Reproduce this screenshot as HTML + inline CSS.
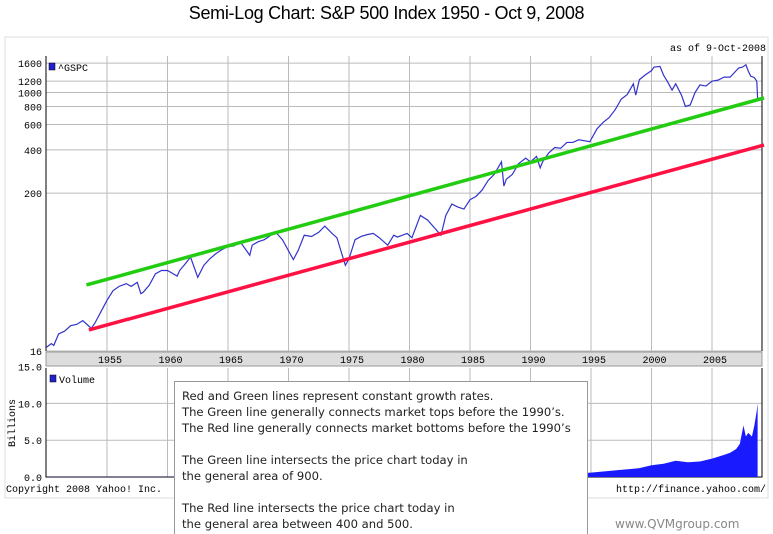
<!DOCTYPE html>
<html><head><meta charset="utf-8"><style>
html,body{margin:0;background:#fff;width:773px;height:534px;overflow:hidden;position:relative;font-family:"Liberation Sans",sans-serif}
#title{position:absolute;left:0;width:773px;top:3px;text-align:center;font-size:18px;color:#000;letter-spacing:-0.3px}
#note{position:absolute;left:174px;top:381px;width:414px;height:153px;border:1px solid #999;border-bottom:none;background:#fff;font-family:"DejaVu Sans",sans-serif;font-size:11.6px;line-height:16px;color:#222;padding:6px 0 0 7px;box-sizing:border-box;white-space:nowrap;overflow:hidden}
#wm{position:absolute;left:615px;top:517px;font-family:"DejaVu Sans",sans-serif;font-size:12px;color:#888}
</style></head><body>
<div id="title">Semi-Log Chart: S&amp;P 500 Index 1950 - Oct 9, 2008</div>
<svg id="chart" width="773" height="534" style="position:absolute;left:0;top:0"></svg>
<div id="note">Red and Green lines represent constant growth rates.<br>The Green line generally connects market tops before the 1990’s.<br>The Red line generally connects market bottoms before the 1990’s<br><br>The Green line intersects the price chart today in<br>the general area of 900.<br><br>The Red line intersects the price chart today in<br>the general area between 400 and 500.</div>
<div id="wm">www.QVMgroup.com</div>
<script>
const priceYears=[1950,1950.4,1950.6,1951,1951.5,1952,1952.5,1953,1953.7,1954,1954.5,1955,1955.5,1956,1956.6,1957,1957.5,1957.8,1958,1958.5,1959,1959.5,1960,1960.8,1961,1961.5,1961.9,1962.5,1963,1963.5,1964,1964.5,1965,1965.5,1966,1966.8,1967,1967.5,1968,1968.4,1968.9,1969.5,1970.4,1970.8,1971.3,1971.9,1972.5,1973,1973.6,1974,1974.7,1975,1975.5,1976,1976.5,1977,1977.5,1978.2,1978.7,1979,1979.8,1980.2,1980.9,1981.5,1982.6,1983,1983.5,1984,1984.5,1985,1985.5,1986,1986.5,1987,1987.6,1987.8,1988,1988.5,1989,1989.6,1990,1990.5,1990.8,1991,1991.5,1992,1992.5,1993,1993.5,1994,1994.9,1995.5,1996,1996.5,1997,1997.5,1998,1998.5,1998.7,1999,1999.5,2000,2000.2,2000.7,2001,2001.3,2001.7,2002,2002.5,2002.8,2003.2,2003.6,2004,2004.5,2005,2005.5,2006,2006.5,2007,2007.2,2007.5,2007.8,2008,2008.2,2008.5,2008.7,2008.77];
const priceValues=[17,18,17.5,21,22,24,24.5,26,23,25,30,36,42,45,47,45,48,40,41,46,55,58,58,53,58,65,72,52,63,70,76,81,85,86,92,74,87,92,95,100,108,95,69,80,102,100,107,118,105,98,63,70,95,100,103,105,98,87,102,99,105,98,140,130,102,140,168,160,155,180,190,210,245,270,330,224,250,270,320,350,330,360,300,330,380,415,410,450,450,470,455,560,620,670,760,900,970,1150,960,1230,1330,1420,1500,1520,1320,1200,1040,1150,950,800,820,1000,1130,1110,1200,1220,1280,1280,1420,1480,1500,1560,1410,1300,1270,1200,910];
const volYears=[1950,1960,1970,1980,1985,1990,1993,1995,1997,1999,2000,2001,2002,2003,2004,2005,2006,2006.5,2007,2007.3,2007.6,2007.8,2008,2008.3,2008.5,2008.7,2008.77];
const volValues=[0.01,0.01,0.02,0.05,0.1,0.2,0.4,0.6,0.9,1.2,1.6,1.8,2.2,2.0,2.1,2.5,3.0,3.3,3.8,4.5,7,5.5,6,5.5,7,9,10];
const greenLine=[[1953.3,46],[2009.3,917]];
const redLine=[[1953.5,22.4],[2009.3,432]];
const priceTicks=[16,200,400,600,800,1000,1200,1600];
const volTicks=[0,5,10,15];
const yearTicks=[1955,1960,1965,1970,1975,1980,1985,1990,1995,2000,2005];

const svg=document.getElementById('chart');
const NS='http://www.w3.org/2000/svg';
const L=46,R=762,PT=56,PB=351,VB=477;
const xS=y=>107+(y-1955)*12.1;
const yS=v=>351-62.5*Math.log(v/16);
const vS=v=>VB-v*7.36;
function mk(t,a,txt){const e=document.createElementNS(NS,t);for(const k in a)e.setAttribute(k,a[k]);if(txt!==undefined)e.textContent=txt;svg.appendChild(e);return e;}
const mono='"Liberation Mono","DejaVu Sans Mono",monospace';
let e;
e=mk('rect',{x:5,y:37,width:763,height:461,fill:'none',stroke:'#ddd'});

e=mk('text',{x:766,y:51,'font-size':10,'font-family':mono,'text-anchor':'end'},'as of  9-Oct-2008');

priceTicks.forEach(v=>{const y=yS(v);
e=mk('line',{x1:L,x2:R,y1:y,y2:y,stroke:'#bbb'});
e=mk('text',{x:42,y:y+4,'font-size':10,'font-family':mono,'text-anchor':'end'},String(v));});
yearTicks.forEach(yr=>{const x=xS(yr);
e=mk('line',{x1:x,x2:x,y1:PT,y2:PB,stroke:'#bbb'});
e=mk('line',{x1:x,x2:x,y1:368,y2:VB,stroke:'#bbb'});});
e=mk('rect',{x:L,y:352,width:R-L,height:14,fill:'#ddd',stroke:'#999'});
yearTicks.forEach(yr=>{e=mk('text',{x:xS(yr)+3,y:363,'font-size':10,'font-family':mono,'text-anchor':'middle'},String(yr));});
volTicks.forEach(v=>{const y=vS(v);
if(v>0&&v<15){e=mk('line',{x1:L,x2:R,y1:y,y2:y,stroke:'#bbb'});}
e=mk('text',{x:42,y:y+4,'font-size':10,'font-family':mono,'text-anchor':'end'},v.toFixed(1));});
e=mk('text',{x:0,y:0,'font-size':10,'font-family':mono,'text-anchor':'middle',transform:'translate(15,423) rotate(-90)'},'Billions');

e=mk('path',{d:`M${L},${PT}V${PB}M${L},368V${VB}H${R}V368M${R},${PT}V${PB}`,fill:'none',stroke:'#000'});

let d=`M${xS(volYears[0])},${VB}`;volYears.forEach((y,i)=>{d+=`L${xS(y)},${vS(volValues[i])}`;});d+=`L${xS(volYears[volYears.length-1])},${VB}Z`;
e=mk('path',{d,fill:'#1a1aff'});
d='';priceYears.forEach((y,i)=>{d+=(i?'L':'M')+xS(y)+','+yS(priceValues[i]);});
e=mk('path',{d,fill:'none',stroke:'#3333cc','stroke-width':1.2});
e=mk('line',{x1:xS(greenLine[0][0]),y1:yS(greenLine[0][1]),x2:xS(greenLine[1][0]),y2:yS(greenLine[1][1]),stroke:'#22cc11','stroke-width':3.5});

e=mk('line',{x1:xS(redLine[0][0]),y1:yS(redLine[0][1]),x2:xS(redLine[1][0]),y2:yS(redLine[1][1]),stroke:'#ff1144','stroke-width':3.5});

e=mk('rect',{x:49,y:63,width:6,height:7,fill:'#22c',stroke:'#000','stroke-width':0.5});
e=mk('text',{x:58,y:71,'font-size':10,'font-family':mono},'^GSPC');
e=mk('rect',{x:50,y:375,width:6,height:7,fill:'#22c',stroke:'#000','stroke-width':0.5});
e=mk('text',{x:59,y:383,'font-size':10,'font-family':mono},'Volume');
e=mk('text',{x:6,y:492,'font-size':10,'font-family':mono},'Copyright 2008 Yahoo! Inc.');
e=mk('text',{x:766,y:492,'font-size':10,'font-family':mono,'text-anchor':'end'},'http://finance.yahoo.com/');
</script>
</body></html>
